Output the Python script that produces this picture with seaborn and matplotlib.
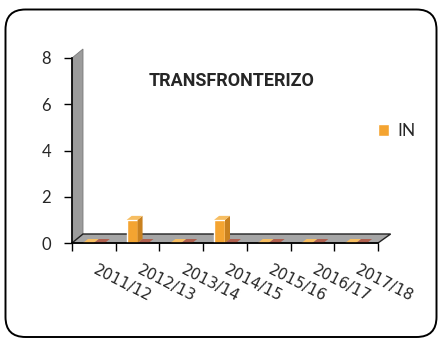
import numpy as np
import pandas as pd
import seaborn as sns
import matplotlib.pyplot as plt
import matplotlib.transforms as mtransforms
from matplotlib.patches import Polygon, FancyBboxPatch, Patch

# --- data -------------------------------------------------------------
seasons = ["2011/12", "2012/13", "2013/14", "2014/15", "2015/16", "2016/17", "2017/18"]
in_values = [0, 1, 0, 1, 0, 0, 0]
out_values = [0, 0, 0, 0, 0, 0, 0]
series_names = ["IN", "OUT"]
y_ticks = [0, 2, 4, 6, 8]
title = "TRANSFRONTERIZO"

df = pd.DataFrame({
    "temporada": seasons * 2,
    "valor": in_values + out_values,
    "serie": [series_names[0]] * len(seasons) + [series_names[1]] * len(seasons),
})

# --- style ------------------------------------------------------------
sns.set_theme(style="white")
plt.rcParams["font.family"] = ["Lato", "DejaVu Sans"]

ORANGE = "#F4A431"
ORANGE_SIDE = "#C9811F"
ORANGE_TOP = "#F7BE62"
BROWN = "#A9564A"
BROWN_SIDE = "#86423A"
BROWN_TOP = "#B0604F"
FLOOR = "#A6A6A6"
WALL = "#9C9C9C"

W, H, DPI = 439, 340, 100
fig = plt.figure(figsize=(W / DPI, H / DPI), dpi=DPI)

# plot area in pixels
px_left, px_right, px_zero, px_top = 72, 378, 243, 58
ax = fig.add_axes([px_left / W, (H - px_zero) / H,
                   (px_right - px_left) / W, (px_zero - px_top) / H])
ax.set_facecolor("none")

sns.barplot(data=df, x="temporada", y="valor", hue="serie",
            palette=[ORANGE, BROWN], width=0.5, saturation=1,
            ax=ax, legend=False, zorder=3)

n = len(seasons)
ymax = y_ticks[-1]
ax.set_xlim(-0.5, n - 0.5)
ax.set_ylim(0, ymax)

# pixel -> data conversion for the depth effect
ppx = (px_right - px_left) / n
ppy = (px_zero - px_top) / ymax
def dxy(px, py):
    return px / ppx, py / ppy

# back wall and floor of the 3D box
wx, wy = dxy(11, 9)
wall = Polygon([(-0.5, 0), (-0.5, ymax), (-0.5 + wx, ymax + wy), (-0.5 + wx, wy)],
               closed=True, facecolor=WALL, edgecolor="#7a7a7a", lw=0.6,
               clip_on=False, zorder=1)
ax.add_patch(wall)
floor = Polygon([(-0.5, 0), (n - 0.5, 0), (n - 0.5 + wx * 1.15, wy), (-0.5 + wx, wy)],
                closed=True, facecolor=FLOOR, edgecolor="#222222", lw=1.0,
                clip_on=False, zorder=2)
ax.add_patch(floor)

# depth faces for each column
bx, by = dxy(5, 4)
face_colors = {ORANGE: (ORANGE_SIDE, ORANGE_TOP), BROWN: (BROWN_SIDE, BROWN_TOP)}
for bar in list(ax.patches):
    if bar in (wall, floor):
        continue
    x0, w, h = bar.get_x(), bar.get_width(), bar.get_height()
    fc = bar.get_facecolor()
    key = ORANGE if fc[0] > 0.8 else BROWN
    side_c, top_c = face_colors[key]
    side = Polygon([(x0 + w, 0), (x0 + w + bx, by), (x0 + w + bx, h + by), (x0 + w, h)],
                   closed=True, facecolor=side_c, edgecolor="none", zorder=3,
                   clip_on=False)
    top = Polygon([(x0, h), (x0 + w, h), (x0 + w + bx, h + by), (x0 + bx, h + by)],
                  closed=True, facecolor=top_c, edgecolor="none", zorder=3,
                  clip_on=False)
    ax.add_patch(side)
    ax.add_patch(top)

# axes lines and ticks
for s in ["top", "right"]:
    ax.spines[s].set_visible(False)
for s in ["left", "bottom"]:
    ax.spines[s].set_color("black")
    ax.spines[s].set_linewidth(1.2)
    ax.spines[s].set_zorder(4)

ax.set_yticks(y_ticks)
ax.set_yticklabels([str(v) for v in y_ticks], fontsize=12)
ax.tick_params(axis="y", direction="out", length=6, width=1, color="black", pad=9,
               left=True)
ax.set_xticks(np.arange(n))
ax.set_xticks(np.arange(n + 1) - 0.5, minor=True)
ax.tick_params(axis="x", which="major", length=0, pad=14)
ax.tick_params(axis="x", which="minor", direction="out", length=6, width=1,
               color="black", bottom=True)
ax.set_xticklabels(seasons, rotation=-27, ha="left", rotation_mode="anchor",
                   fontsize=11, family="DejaVu Sans")
# nudge the slanted season labels a few pixels to the right
shift = mtransforms.ScaledTranslation(4 / DPI, 0, fig.dpi_scale_trans)
for lab in ax.get_xticklabels():
    lab.set_transform(lab.get_transform() + shift)
ax.set_xlabel("")
ax.set_ylabel("")

# title and legend
fig.text(232 / W, 1 - 81 / H, title, ha="center", va="center",
         fontsize=13, fontweight="bold", family=["Roboto", "DejaVu Sans"])
fig.legend(handles=[Patch(facecolor=ORANGE, label=series_names[0])],
           loc="center left", bbox_to_anchor=(378 / W, 1 - 131 / H),
           frameon=False, fontsize=12.5, handlelength=0.64, handleheight=0.64,
           handletextpad=0.45, borderaxespad=0, borderpad=0)

# rounded outer frame
frame = FancyBboxPatch((0.055, 0.03), 4.31, 3.275,
                       boxstyle="round,pad=0,rounding_size=0.2",
                       transform=fig.dpi_scale_trans, facecolor="none",
                       edgecolor="black", lw=1.4, zorder=10)
fig.patches.append(frame)

fig.savefig("out.png", dpi=DPI)
